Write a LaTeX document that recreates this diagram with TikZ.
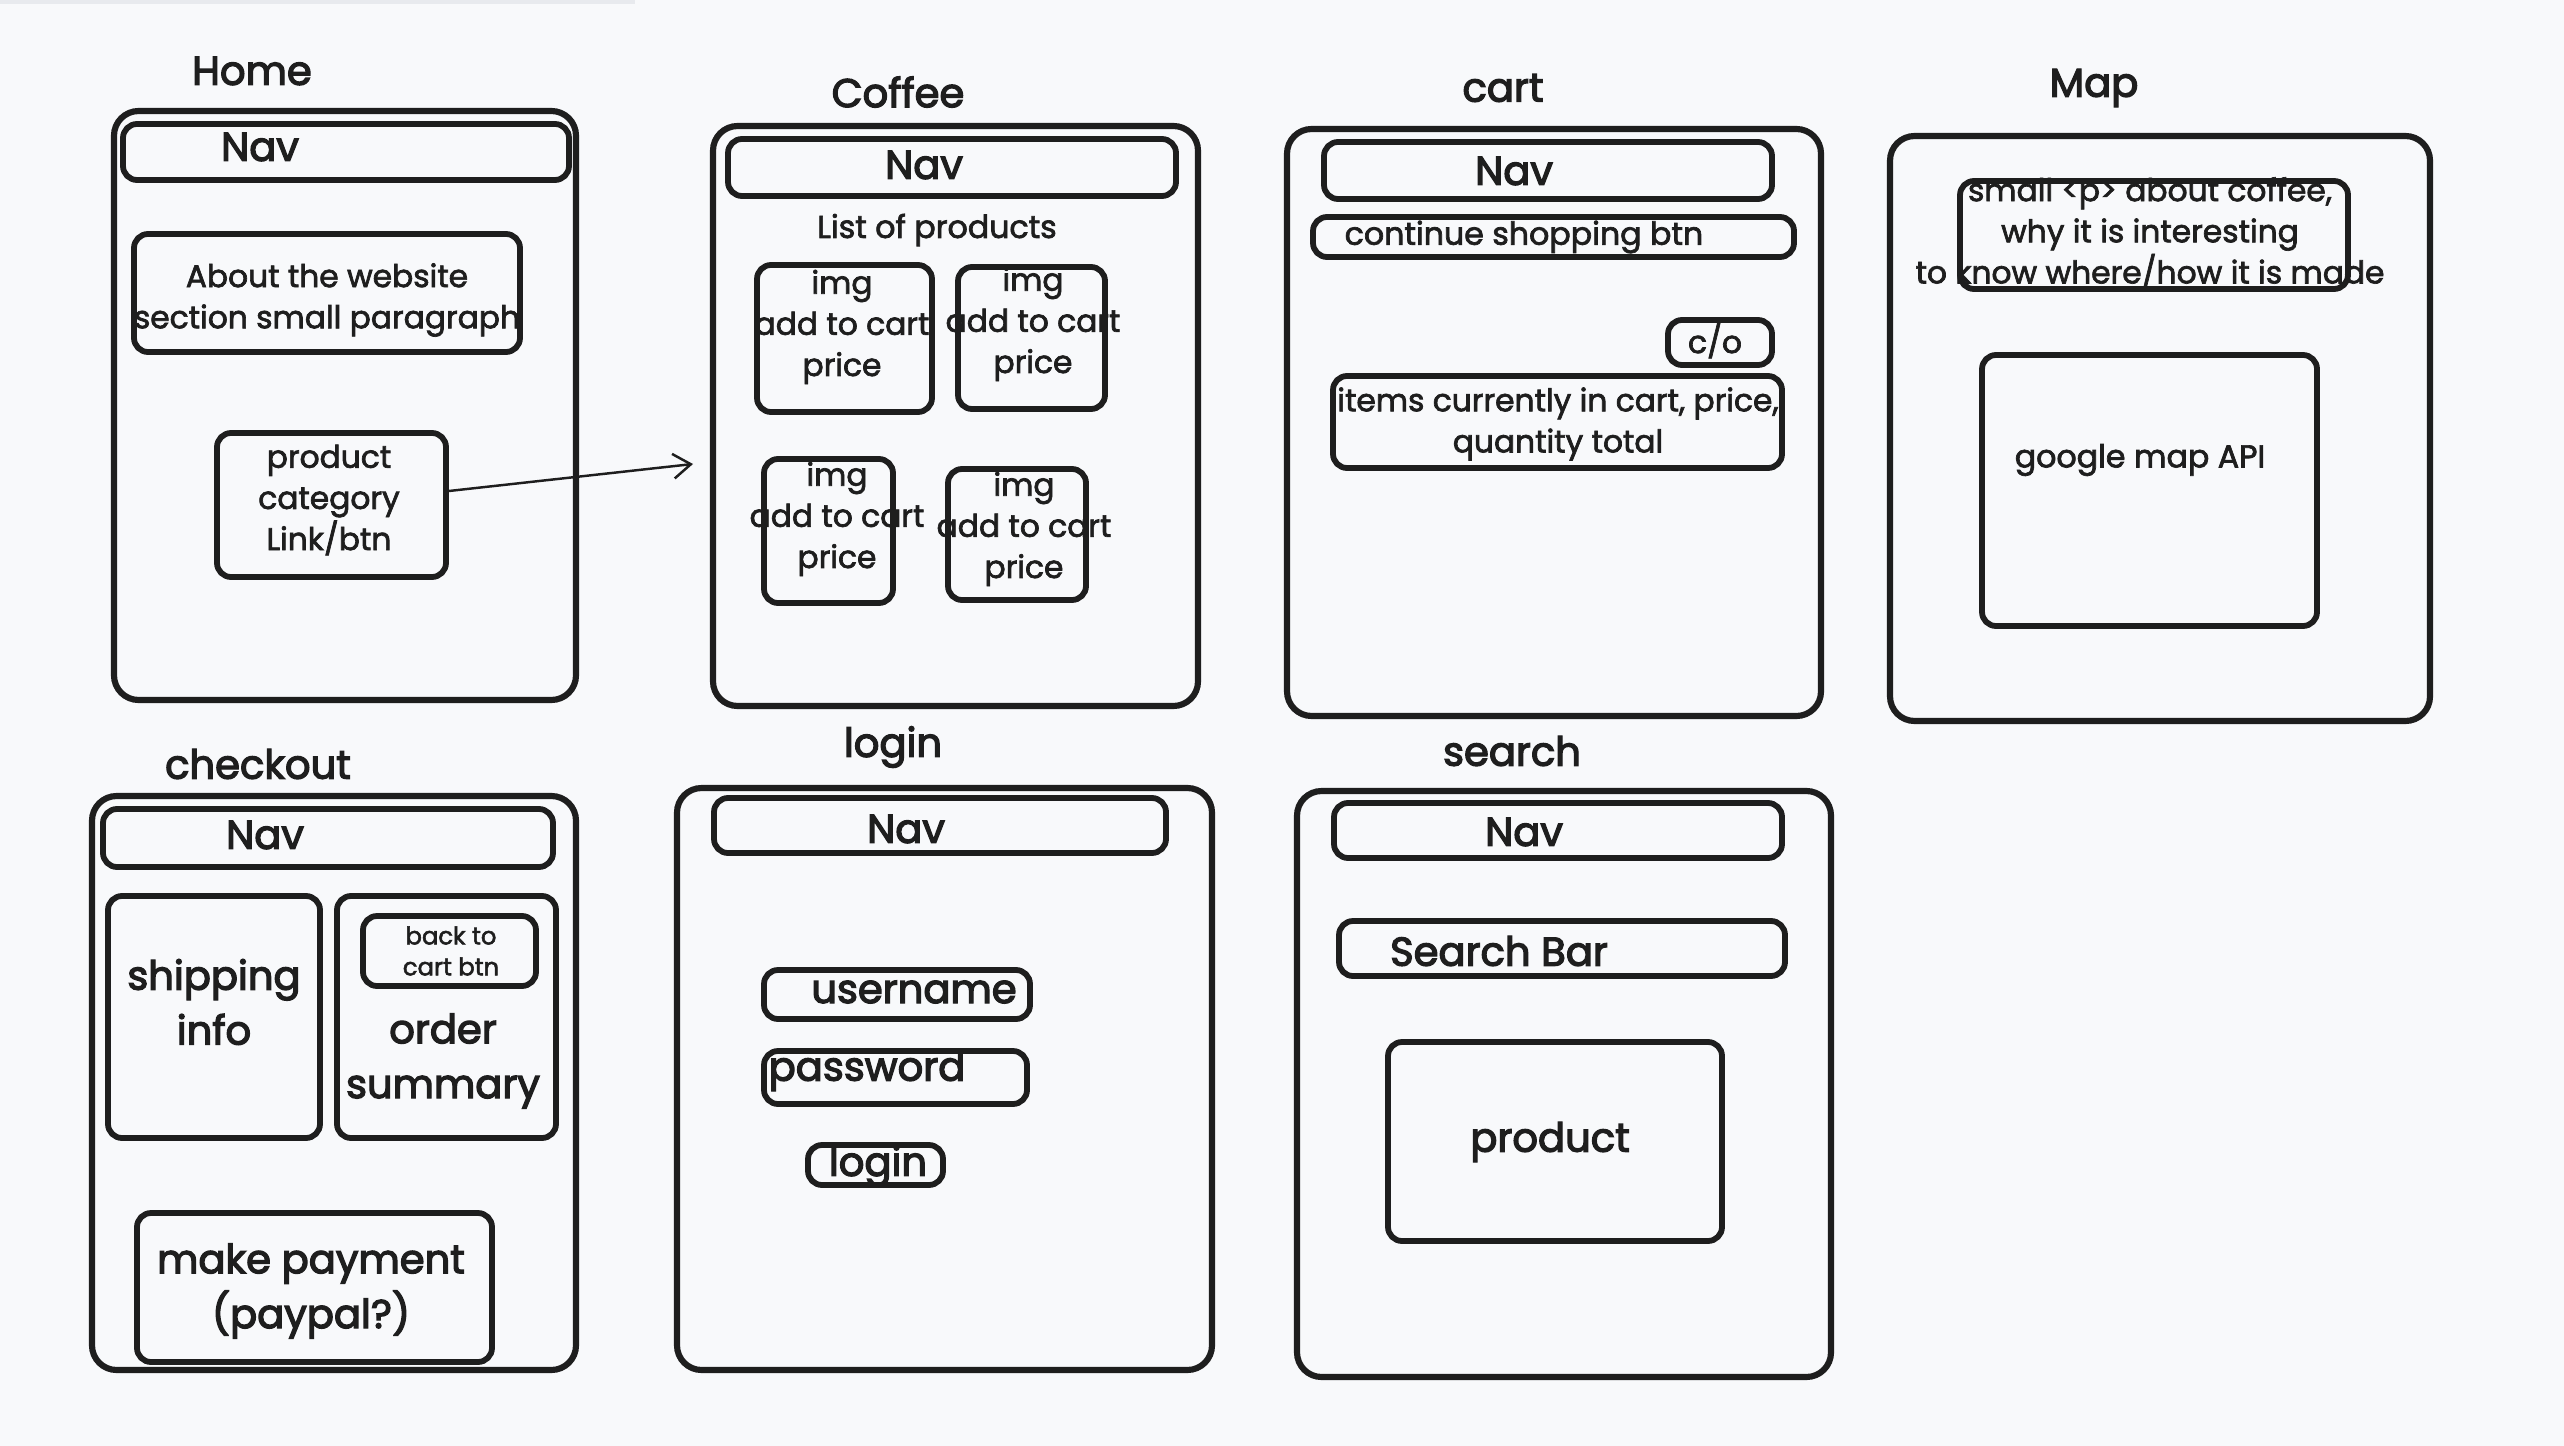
\documentclass[tikz,border=0pt]{standalone}
\usepackage{fontspec}
\setmainfont{Poppins}[FakeBold=2.2]
\newfontfamily\ttlfont{Poppins}[FakeBold=3.2]
\usetikzlibrary{fit,arrows.meta,calc}
\definecolor{bg}{RGB}{248,249,251}
\definecolor{ink}{RGB}{30,30,30}
\definecolor{topbar}{RGB}{232,234,238}
\tikzset{
  frame/.style={draw=ink, line width=1.75pt, rounded corners=7pt, inner sep=0pt},
  wbox/.style={draw=ink, line width=1.65pt, rounded corners=4pt, inner sep=0pt},
  txt/.style={text=ink, align=center, inner sep=0pt},
  ttl/.style={txt, font=\ttlfont\fontsize{11.4}{14}\selectfont},
  navt/.style={txt, font=\ttlfont\fontsize{11.4}{14}\selectfont},
  body/.style={txt, font=\fontsize{8.9}{11.7}\selectfont},
  small/.style={txt, font=\fontsize{9.0}{11}\selectfont},
  big/.style={txt, font=\ttlfont\fontsize{11.4}{15.6}\selectfont},
  conn/.style={draw=ink, line width=0.7pt, -{Straight Barb[length=5pt,width=7pt]}},
}
\begin{document}
\begin{tikzpicture}[x=0.01cm,y=-0.01cm]
\useasboundingbox (0,0) rectangle (2564,1446);
\fill[bg] (0,0) rectangle (2564,1446);
\fill[topbar] (0,0) rectangle (635,4);

% ---------- Home ----------
\node[ttl] (tHome) at (252,71) {Home};
\node[frame, fit={(114,111) (576,700)}] (fHome) {};
\node[wbox, fit={(123,124) (569,180)}] (navHome) {};
\node[navt] (navHomeT) at (260,147) {Nav};
\node[wbox, fit={(134,234) (520,352)}] (aboutBox) {};
\node[body] (aboutT) at (327,300) {About the website\\section small paragraph};
\node[wbox, fit={(217,433) (446,577)}] (pcBox) {};
\node[body] (pcT) at (329,500) {product\\category\\Link/btn};
\coordinate (arrEnd) at (693,464);
\draw[conn] ($(pcBox.east)+(0,-14)$) -- (arrEnd);

% ---------- Coffee ----------
\node[ttl] (tCoffee) at (898,92) {Coffee};
\node[frame, fit={(713,126) (1198,706)}] (fCoffee) {};
\node[wbox, fit={(728,139) (1176,196)}] (navCoffee) {};
\node[navt] (navCoffeeT) at (924,165) {Nav};
\node[small] (listT) at (937,230) {List of products};
\node[wbox, fit={(757,265) (932,412)}] (p1) {};
\node[body] (p1T) at (842,327) {img\\add to cart\\price};
\node[wbox, fit={(958,267) (1105,409)}] (p2) {};
\node[body] (p2T) at (1033,324) {img\\add to cart\\price};
\node[wbox, fit={(764,459) (893,603)}] (p3) {};
\node[body] (p3T) at (837,519) {img\\add to cart\\price};
\node[wbox, fit={(948,469) (1086,600)}] (p4) {};
\node[body] (p4T) at (1024,529) {img\\add to cart\\price};

% ---------- cart ----------
\node[ttl] (tCart) at (1503,88) {cart};
\node[frame, fit={(1287,129) (1821,716)}] (fCart) {};
\node[wbox, fit={(1324,142) (1772,199)}] (navCart) {};
\node[navt] (navCartT) at (1514,171) {Nav};
\node[wbox, fit={(1313,217) (1794,257)}] (contBox) {};
\node[small, anchor=west] (contT) at (1344,237) {continue shopping btn};
\node[wbox, fit={(1668,320) (1772,365)}] (coBox) {};
\node[body] (coT) at (1715,341) {c/o};
\node[wbox, fit={(1333,376) (1782,468)}] (itemsBox) {};
\node[body] (itemsT) at (1558,424) {items currently in cart, price,\\quantity total};

% ---------- Map ----------
\node[ttl] (tMap) at (2094,88) {Map};
\node[frame, fit={(1890,136) (2430,721)}] (fMap) {};
\node[wbox, fit={(1960,181) (2348,289)}] (pBox) {};
\node[body] (pT) at (2150,233) {small <p> about coffee,\\why it is interesting\\to know where/how it is made};
\node[wbox, fit={(1982,355) (2317,626)}] (gmBox) {};
\node[small] (gmT) at (2140,460) {google map API};

% ---------- checkout ----------
\node[ttl] (tCheckout) at (258,764) {checkout};
\node[frame, fit={(92,796) (576,1370)}] (fCheckout) {};
\node[wbox, fit={(103,809) (553,867)}] (navCheckout) {};
\node[navt] (navCheckoutT) at (265,835) {Nav};
\node[wbox, fit={(108,896) (320,1138)}] (shipBox) {};
\node[big] (shipT) at (214,1002) {shipping\\info};
\node[wbox, fit={(337,896) (556,1138)}] (orderBox) {};
\node[wbox, fit={(363,916) (536,986)}] (backBox) {};
\node[txt, font=\fontsize{6.9}{8.8}\selectfont] (backT) at (451,951) {back to\\cart btn};
\node[big] (orderT) at (443,1061) {order\\summary};
\node[wbox, fit={(137,1213) (492,1362)}] (payBox) {};
\node[big] (payT) at (311,1291) {make payment\\(paypal?)};

% ---------- login ----------
\node[ttl] (tLogin) at (893,747) {login};
\node[frame, fit={(677,788) (1212,1370)}] (fLogin) {};
\node[wbox, fit={(714,798) (1166,853)}] (navLogin) {};
\node[navt] (navLoginT) at (906,829) {Nav};
\node[wbox, fit={(764,970) (1030,1019)}] (userBox) {};
\node[navt] (userT) at (914,992) {username};
\node[wbox, fit={(764,1051) (1027,1104)}] (pwBox) {};
\node[navt, anchor=west] (pwT) at (768,1071) {password};
\node[wbox, fit={(808,1145) (943,1185)}] (loginBox) {};
\node[navt] (loginT) at (878,1166) {login};

% ---------- search ----------
\node[ttl] (tSearch) at (1512,751) {search};
\node[frame, fit={(1297,791) (1831,1377)}] (fSearch) {};
\node[wbox, fit={(1334,803) (1782,858)}] (navSearch) {};
\node[navt] (navSearchT) at (1524,832) {Nav};
\node[wbox, fit={(1339,921) (1785,976)}] (sbBox) {};
\node[navt] (sbT) at (1499,951) {Search Bar};
\node[wbox, fit={(1388,1042) (1722,1241)}] (prodBox) {};
\node[navt] (prodT) at (1550,1142) {product};
\end{tikzpicture}
\end{document}
